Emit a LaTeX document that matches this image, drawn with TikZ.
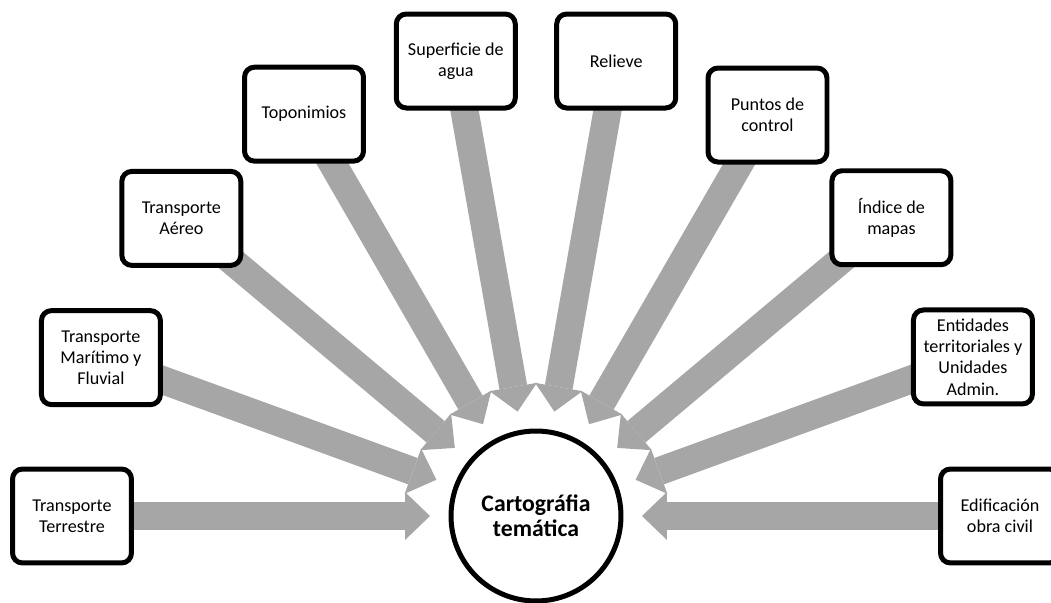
\documentclass[tikz,border=0pt]{standalone}
\usepackage{fontspec}
\setmainfont{Carlito}
\usetikzlibrary{arrows.meta,backgrounds,calc}
\definecolor{arrowgray}{RGB}{166,166,166}

\begin{document}
\begin{tikzpicture}[x=0.02cm,y=0.02cm,>={Triangle[width=0.96cm,length=0.5cm,line width=0pt,fill=arrowgray]},
  bigarrow/.style={->,color=arrowgray,line width=0.56cm,shorten >=0.37cm}]
  \tikzstyle{topic}=[draw=black,fill=white,line width=0.1cm,rounded corners=0.2cm,
    minimum width=2.38cm,minimum height=1.88cm,inner sep=0pt,align=center,
    font=\fontsize{10.3}{12.1}\selectfont]
  \tikzstyle{hubnode}=[circle,draw=black,fill=white,line width=0.1cm,minimum size=3.4cm,
    inner sep=0pt,align=center,font=\bfseries\fontsize{13.5}{14.5}\selectfont]

  \useasboundingbox (0,0) rectangle (1051,602);

  \node[hubnode] (hub) at (536,86) {Cartográfia\\temática};

  \node[topic] (terr) at ($(hub)+(180:464)$) {Transporte\\Terrestre};
  \node[topic] (mar)  at ($(hub)+(160:463)$) {Transporte\\Marítimo y\\Fluvial};
  \node[topic] (aer)  at ($(hub)+(140:463)$) {Transporte\\Aéreo};
  \node[topic] (topo) at ($(hub)+(120:464)$) {Toponimios};
  \node[topic] (agua) at ($(hub)+(100:462)$) {Superficie de\\agua};
  \node[topic] (rel)  at ($(hub)+(80:462)$)  {Relieve};
  \node[topic] (ctrl) at ($(hub)+(60:463)$)  {Puntos de\\control};
  \node[topic] (ind)  at ($(hub)+(40:464)$)  {Índice de\\mapas};
  \node[topic] (ent)  at ($(hub)+(20:465)$)  {Entidades\\territoriales y\\Unidades\\Admin.};
  \node[topic] (edif) at ($(hub)+(0:464)$)   {Edificación\\obra civil};

  \begin{scope}[on background layer]
    \path[bigarrow]
    (terr.center) edge (hub)
    (mar.center)  edge (hub)
    (aer.center)  edge (hub)
    (topo.center) edge (hub)
    (agua.center) edge (hub)
    (rel.center)  edge (hub)
    (ctrl.center) edge (hub)
    (ind.center)  edge (hub)
    (ent.center)  edge (hub)
    (edif.center) edge (hub);
  \end{scope}
\end{tikzpicture}
\end{document}
